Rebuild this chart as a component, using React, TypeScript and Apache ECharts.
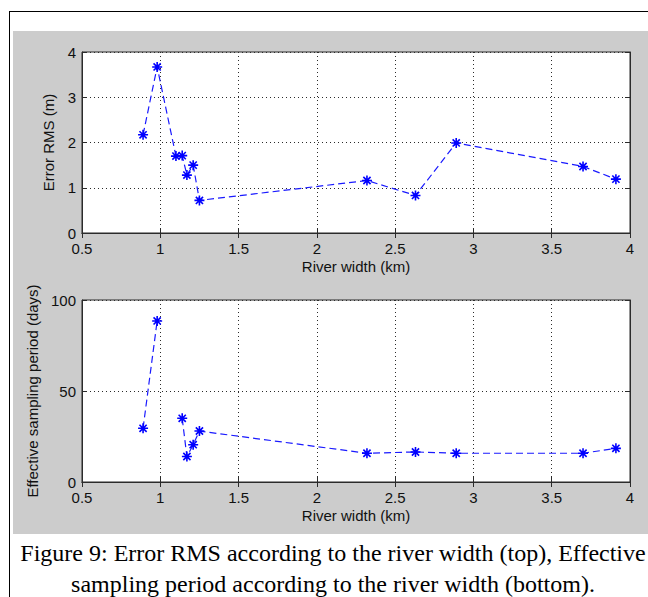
import React, { useEffect, useRef } from "react";
import * as echarts from "echarts";

const riverWidth = [0.89, 0.98, 1.10, 1.14, 1.17, 1.21, 1.25, 2.32, 2.63, 2.89, 3.70, 3.91];
const errorRms = [2.17, 3.67, 1.70, 1.71, 1.28, 1.50, 0.72, 1.16, 0.83, 1.99, 1.47, 1.19];
const samplingPeriod: (number | null)[] = [29.5, 88.5, null, 35, 14, 20.5, 28, 15.8, 16.5, 15.8, 15.8, 18.5];
const xTicks = { min: 0.5, max: 4, interval: 0.5 };
const topY = { min: 0, max: 4, interval: 1 };
const bottomY = { min: 0, max: 100, interval: 50 };
const captionLines = [
  "Figure 9: Error RMS according to the river width (top), Effective",
  "sampling period according to the river width (bottom).",
];

const AX = "#2b2b2b";
const FONT = "Liberation Sans";
const STAR = "path://M0,-5L0,5M-5,0L5,0M-3.6,-3.6L3.6,3.6M-3.6,3.6L3.6,-3.6";

function pairs(ys: (number | null)[]) {
  return riverWidth.map((x, i) => [x, ys[i] == null ? "-" : ys[i]]);
}

export default function App() {
  const ref = useRef<HTMLDivElement>(null);
  useEffect(() => {
    const chart = echarts.init(ref.current!, null, { renderer: "svg" });
    const grids = [
      { left: 82, top: 52, width: 548, height: 181 },
      { left: 82, top: 300, width: 548, height: 182 },
    ];
    const xAxes: any[] = [];
    const yAxes: any[] = [];
    [0, 1].forEach((g) => {
      xAxes.push({
        type: "value",
        gridIndex: g,
        position: "bottom",
        ...xTicks,
        name: "River width (km)",
        nameLocation: "middle",
        nameGap: 26,
        nameTextStyle: { fontFamily: FONT, fontSize: 15, color: "#111" },
        axisLine: { show: true, lineStyle: { color: AX, width: 1 } },
        axisTick: { show: true, inside: true, length: 5, lineStyle: { color: AX } },
        axisLabel: { fontFamily: FONT, fontSize: 15, color: "#111", margin: 8 },
        splitLine: { show: true, lineStyle: { color: AX, type: [1, 3], width: 1 } },
      });
      xAxes.push({
        type: "value",
        gridIndex: g,
        position: "top",
        ...xTicks,
        axisLine: { show: true, lineStyle: { color: AX, width: 1 } },
        axisTick: { show: true, inside: true, length: 5, lineStyle: { color: AX } },
        axisLabel: { show: false },
        splitLine: { show: false },
      });
      const yr = g === 0 ? topY : bottomY;
      yAxes.push({
        type: "value",
        gridIndex: g,
        position: "left",
        ...yr,
        name: g === 0 ? "Error RMS (m)" : "Effective sampling period (days)",
        nameLocation: "middle",
        nameGap: g === 0 ? 26 : 42,
        nameTextStyle: { fontFamily: FONT, fontSize: 15, color: "#111" },
        axisLine: { show: true, lineStyle: { color: AX, width: 1 } },
        axisTick: { show: true, inside: true, length: 5, lineStyle: { color: AX } },
        axisLabel: { fontFamily: FONT, fontSize: 15, color: "#111", margin: 6 },
        splitLine: { show: true, lineStyle: { color: AX, type: [1, 3], width: 1 } },
      });
      yAxes.push({
        type: "value",
        gridIndex: g,
        position: "right",
        ...yr,
        axisLine: { show: true, lineStyle: { color: AX, width: 1 } },
        axisTick: { show: true, inside: true, length: 5, lineStyle: { color: AX } },
        axisLabel: { show: false },
        splitLine: { show: false },
      });
    });
    const seriesCommon = {
      type: "line",
      symbol: STAR,
      symbolSize: 10,
      showAllSymbol: true,
      connectNulls: false,
      lineStyle: { color: "#1a1aff", width: 1.2, type: [7, 4] },
      itemStyle: { color: "#0000ff", borderColor: "#0000ff", borderWidth: 1.6 },
      emphasis: { disabled: true },
    };
    chart.setOption({
      animation: false,
      backgroundColor: "#ffffff",
      grid: grids.map((g) => ({ ...g, show: true, backgroundColor: "#ffffff", borderColor: AX, borderWidth: 1 })),
      xAxis: xAxes,
      yAxis: yAxes,
      series: [
        { ...seriesCommon, name: "Error RMS", xAxisIndex: 0, yAxisIndex: 0, data: pairs(errorRms) },
        { ...seriesCommon, name: "Effective sampling period", xAxisIndex: 2, yAxisIndex: 2, data: pairs(samplingPeriod) },
      ],
      graphic: [
        { type: "rect", z: -10, shape: { x: 13, y: 31, width: 635, height: 503 }, style: { fill: "#cccccc" } },
        { type: "line", z: 10, shape: { x1: 9, y1: 11.5, x2: 648, y2: 11.5 }, style: { stroke: "#000", lineWidth: 1 } },
        { type: "line", z: 10, shape: { x1: 9.5, y1: 11, x2: 9.5, y2: 597 }, style: { stroke: "#000", lineWidth: 1 } },
        {
          type: "text", x: 333, y: 553,
          style: { text: captionLines[0], font: "24px 'Liberation Serif'", fill: "#000", textAlign: "center", textVerticalAlign: "middle" },
        },
        {
          type: "text", x: 333, y: 584,
          style: { text: captionLines[1], font: "24px 'Liberation Serif'", fill: "#000", textAlign: "center", textVerticalAlign: "middle" },
        },
      ],
    });
    return () => chart.dispose();
  }, []);
  return (
    <div
      ref={ref}
      style={{ position: "fixed", left: 0, top: 0, width: 648, height: 597, background: "#fff" }}
    />
  );
}
